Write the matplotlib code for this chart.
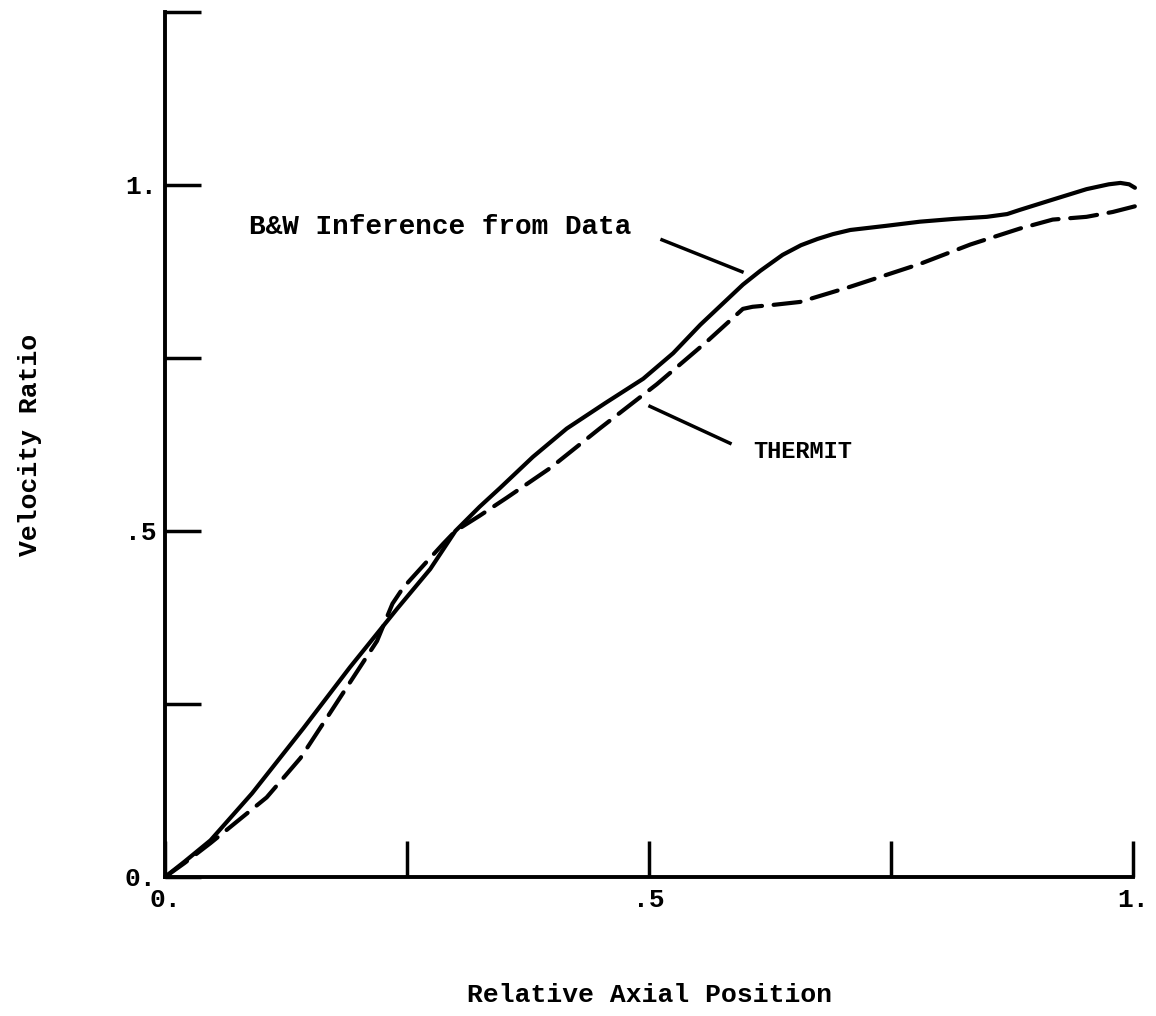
import matplotlib
matplotlib.use("Agg")
import matplotlib.pyplot as plt

bw_x = [0.0, 0.020, 0.047, 0.090, 0.143, 0.191, 0.240, 0.274, 0.300, 0.325, 0.346,
        0.380, 0.415, 0.455, 0.494, 0.525, 0.553, 0.597, 0.615, 0.638, 0.657, 0.674,
        0.690, 0.708, 0.745, 0.780, 0.815, 0.849, 0.870, 0.883, 0.915, 0.952, 0.975,
        0.987, 0.996, 1.002]
bw_y = [0.0, 0.022, 0.053, 0.121, 0.215, 0.303, 0.388, 0.445, 0.500, 0.535, 0.562,
        0.607, 0.648, 0.685, 0.720, 0.757, 0.798, 0.856, 0.876, 0.899, 0.913, 0.922,
        0.929, 0.935, 0.941, 0.947, 0.951, 0.954, 0.958, 0.964, 0.978, 0.994, 1.001,
        1.003, 1.001, 0.996]

th_x = [0.0, 0.020, 0.047, 0.105, 0.140, 0.170, 0.219, 0.235, 0.246, 0.270, 0.287,
        0.300, 0.325, 0.353, 0.398, 0.449, 0.508, 0.560, 0.597, 0.607, 0.630, 0.656,
        0.708, 0.780, 0.832, 0.883, 0.917, 0.952, 0.979, 1.007]
th_y = [0.0, 0.020, 0.049, 0.115, 0.172, 0.236, 0.341, 0.395, 0.418, 0.455, 0.481,
        0.500, 0.522, 0.548, 0.591, 0.648, 0.712, 0.774, 0.821, 0.824, 0.827, 0.831,
        0.853, 0.886, 0.914, 0.937, 0.950, 0.954, 0.961, 0.971]

x_ticks = [0.0, 0.25, 0.5, 0.75, 1.0]
x_labels = ["0.", "", ".5", "", "1."]
y_ticks = [0.0, 0.25, 0.5, 0.75, 1.0, 1.25]
y_labels = ["0.", "", ".5", "", "1.", ""]

W, H = 1156, 1016
fig = plt.figure(figsize=(W / 100, H / 100), dpi=100)
ax = fig.add_axes([165 / W, (H - 877) / H, 968 / W, (877 - 12) / H])

font = dict(family=["Liberation Mono", "DejaVu Sans Mono"], weight="bold")

ax.plot(bw_x, bw_y, color="black", lw=3.0, solid_capstyle="round",
        solid_joinstyle="round", clip_on=False)
ax.plot(th_x, th_y, color="black", lw=3.0, linestyle=(0, (6.5, 2.8)),
        dash_capstyle="round", dash_joinstyle="round", clip_on=False)

# leader lines and labels
ax.plot([(662 - 165) / 968, (742 - 165) / 968],
        [(877 - 238) / 694, (877 - 270) / 694], color="black", lw=2.5)
ax.plot([(650 - 165) / 968, (730 - 165) / 968],
        [(877 - 405) / 694, (877 - 442) / 694], color="black", lw=2.5)
ax.text((249 - 165) / 968, (877 - 225) / 694, "B&W Inference from Data",
        fontsize=20, va="center", ha="left", **font)
ax.text((753 - 165) / 968, (877 - 450) / 694, "THERMIT",
        fontsize=17, va="center", ha="left", **font)

ax.set_xlim(0, 1.0)
ax.set_ylim(0, 1.25)
ax.set_xticks(x_ticks)
ax.set_xticklabels(x_labels, **font, fontsize=19)
ax.set_yticks(y_ticks)
ax.set_yticklabels(y_labels, **font, fontsize=19)
ax.tick_params(direction="in", length=26, width=2.5, pad=8)
ax.tick_params(axis="y", pad=6)

for s in ["top", "right"]:
    ax.spines[s].set_visible(False)
for s in ["left", "bottom"]:
    ax.spines[s].set_linewidth(2.8)

fig.text(650 / W, 1 - 995 / H, "Relative Axial Position", fontsize=19,
         ha="center", va="center", **font)
fig.text(30 / W, 1 - 445 / H, "Velocity Ratio", fontsize=19, rotation=90,
         ha="center", va="center", **font)

fig.savefig("out.png", dpi=100)
